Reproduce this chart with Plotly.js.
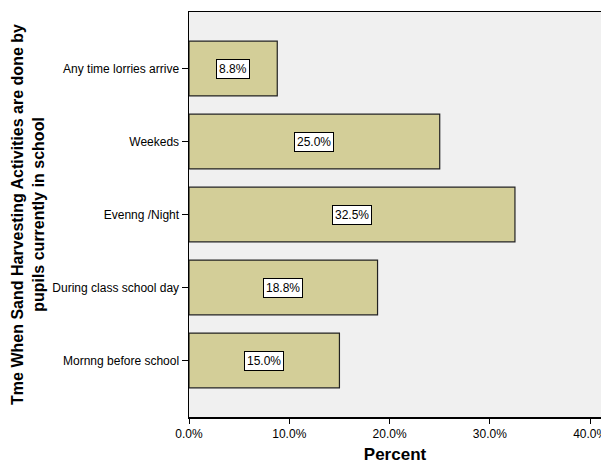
<!DOCTYPE html>
<html>
<head>
<meta charset="utf-8">
<script src="https://cdn.plot.ly/plotly-3.0.1.min.js"></script>
<style>html,body{margin:0;padding:0;background:#fff;}#chart{width:601px;height:464px;}</style>
</head>
<body>
<div id="chart"></div>
<script>
// Categories listed bottom to top
var categories = ["Mornng before school", "During class school day", "Evenng /Night", "Weekeds", "Any time lorries arrive"];
var percents = [15.0, 18.8, 32.5, 25.0, 8.8];
var xTickVals = [0, 10, 20, 30, 40];
var xTickText = ["0.0%", "10.0%", "20.0%", "30.0%", "40.0%"];

var trace = {
  type: "bar",
  orientation: "h",
  y: categories,
  x: percents,
  width: 0.75,
  marker: {color: "#d3ce98", line: {color: "#222222", width: 1.2}},
  hoverinfo: "none"
};

var annotations = percents.map(function (v, i) {
  return {
    x: v / 2, y: categories[i], xref: "x", yref: "y",
    text: v.toFixed(1) + "%", showarrow: false,
    font: {family: "Arial, Liberation Sans, sans-serif", size: 12, color: "#000"},
    bgcolor: "#ffffff", bordercolor: "#000000", borderwidth: 1, borderpad: 2
  };
});

var layout = {
  width: 601, height: 464,
  margin: {l: 189, r: 0, t: 12, b: 47},
  paper_bgcolor: "#ffffff",
  plot_bgcolor: "#f0f0f0",
  showlegend: false,
  font: {family: "Arial, Liberation Sans, sans-serif", size: 12, color: "#000"},
  xaxis: {
    range: [0, 41.08],
    tickvals: xTickVals, ticktext: xTickText,
    ticklabeloverflow: "allow",
    ticks: "outside", ticklen: 5, tickcolor: "#000", tickwidth: 1,
    showgrid: false, zeroline: false,
    showline: true, linecolor: "#000", linewidth: 1.5, mirror: true,
    tickfont: {size: 12, color: "#000"},
    title: {text: "<b>Percent</b>", font: {size: 17, color: "#000"}, standoff: 14}
  },
  yaxis: {
    type: "category",
    range: [-0.774, 4.774],
    ticks: "outside", ticklen: 6, tickcolor: "#000", tickwidth: 1,
    showgrid: false, zeroline: false,
    showline: true, linecolor: "#000", linewidth: 1.5,
    tickfont: {size: 12, color: "#000"},
    automargin: false,
    title: {text: "<b>Tme When Sand Harvesting Activities are done by<br>pupils currently in school</b>", font: {size: 16, color: "#000"}, standoff: 4}
  },
  annotations: annotations
};

Plotly.newPlot("chart", [trace], layout, {staticPlot: true, displayModeBar: false});
</script>
</body>
</html>
